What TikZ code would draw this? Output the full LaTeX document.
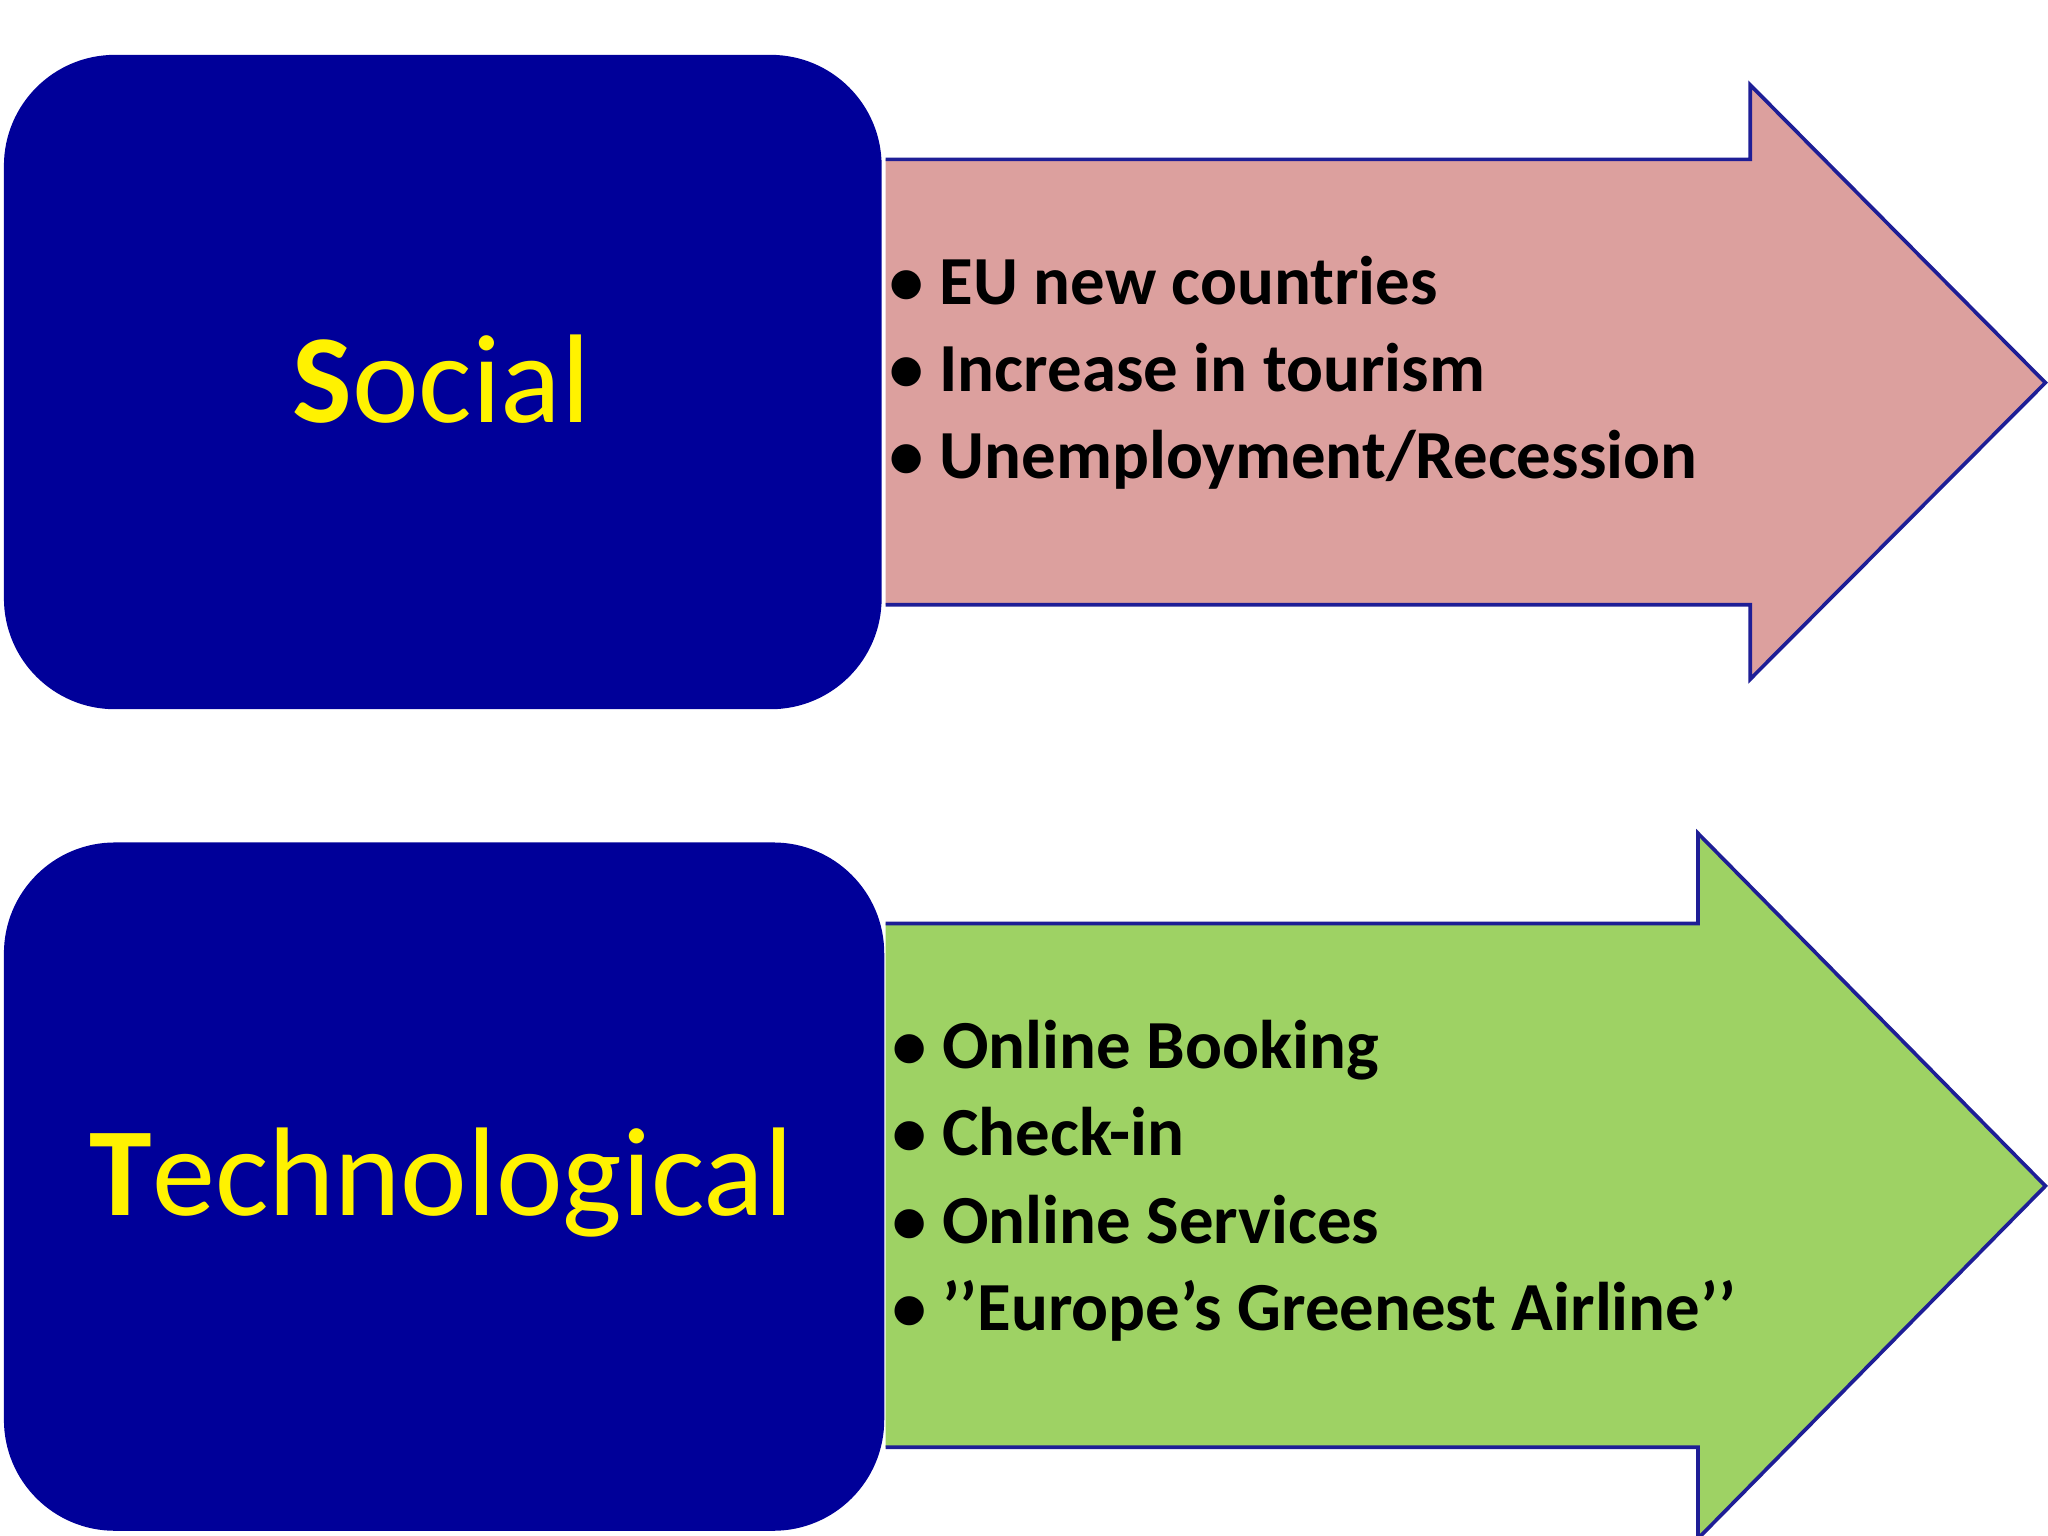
\documentclass[tikz,border=0pt]{standalone}
\usepackage{fontspec}
\setmainfont{Carlito}
\definecolor{navy}{RGB}{0,0,153}
\definecolor{pinkf}{RGB}{220,160,158}
\definecolor{greenf}{RGB}{158,210,100}
\definecolor{edge}{RGB}{30,30,150}
\tikzset{
  catbox/.style={fill=navy,rounded corners=1.7cm},
  cattext/.style={text=yellow,font=\fontsize{55}{60}\selectfont},
  arrowbody/.style={draw=edge,line width=1.6pt},
  items/.style={anchor=north west,align=left,font=\bfseries\fontsize{30}{38}\selectfont}
}
\begin{document}
\begin{tikzpicture}[x=0.02cm,y=-0.02cm]
\useasboundingbox[fill=white] (0,0) rectangle (1568,1176);
% social
\fill[catbox] (3,42) rectangle (675,543);
\node[cattext] (soc) at (338,290) {\textbf{S}ocial};
\draw[arrowbody,fill=pinkf] (678,122) -- (1340,122) -- (1340,65) -- (1566,293) -- (1340,520) -- (1340,463) -- (678,463);
\node[items] (socl) at (675,190) {• EU new countries\\• Increase in tourism\\• Unemployment/Recession};
% technological
\fill[catbox] (3,645) rectangle (677,1172);
\node[cattext] (tec) at (338,905) {\textbf{T}echnological};
\draw[arrowbody,fill=greenf] (678,707) -- (1300,707) -- (1300,638) -- (1566,908) -- (1300,1178) -- (1300,1108) -- (678,1108);
\node[items] (tecl) at (677,775) {• Online Booking\\• Check-in\\• Online Services\\• ’’Europe’s Greenest Airline’’};
\end{tikzpicture}
\end{document}
